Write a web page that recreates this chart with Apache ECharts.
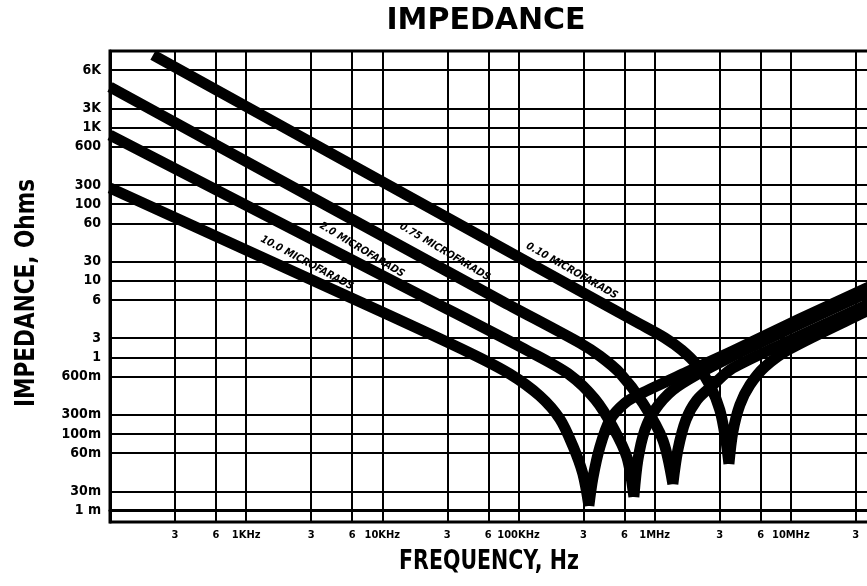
<!DOCTYPE html>
<html><head><meta charset="utf-8">
<script src="https://cdn.jsdelivr.net/npm/echarts@6/dist/echarts.min.js"></script>
<style>html,body{margin:0;padding:0;background:#fff}#c{width:867px;height:586px}</style>
</head><body><div id="c"></div>
<script>
// Frequency axis (Hz): grid/tick values and printed labels
const xTickValues = [300, 600, 1e3, 3e3, 6e3, 1e4, 3e4, 6e4, 1e5, 3e5, 6e5, 1e6, 3e6, 6e6, 1e7, 3e7];
const xTickLabels = ['3', '6', '1KHz', '3', '6', '10KHz', '3', '6', '100KHz', '3', '6', '1MHz', '3', '6', '10MHz', '3'];
// Impedance axis: positions of the printed scale steps and their labels
const yTickPositions = [0, 1, 3, 4, 5, 7, 8, 9, 11, 12, 13, 15, 16, 17, 19, 20, 21, 23];
const yTickLabels = ['1 m', '30m', '60m', '100m', '300m', '600m', '1', '3', '6', '10', '30', '60', '100', '300', '600', '1K', '3K', '6K'];

const capNames = ['0.10 MICROFARADS', '0.75 MICROFARADS', '2.0 MICROFARADS', '10.0 MICROFARADS'];
// [frequency Hz, impedance-scale position]; falling branch then rising branch
const cap010Fall = [[207, 23.79], [396000, 10.89], [779000, 9.74], [1.19e6, 9.01], [1.58e6, 8.38], [2.04e6, 7.60], [2.54e6, 6.55], [3.01e6, 5.25], [3.33e6, 3.68], [3.51e6, 2.43]];
const cap010Rise = [[3.51e6, 2.43], [3.75e6, 4.10], [4.22e6, 5.51], [5.0e6, 6.55], [6.44e6, 7.50], [9.83e6, 8.44], [36.1e6, 10.42], [53.3e6, 10.99]];
const cap075Fall = [[100, 22.12], [73000, 10.99], [282400, 8.75], [396000, 8.07], [555300, 7.18], [819500, 5.61], [1.149e6, 3.68], [1.36e6, 1.38]];
const cap075Rise = [[1.36e6, 1.38], [1.48e6, 3.16], [1.695e6, 4.73], [2.04e6, 5.77], [2.675e6, 6.55], [3.75e6, 7.44], [11.6e6, 9.11], [36.1e6, 10.73], [53.3e6, 11.31]];
const cap20Fall = [[100, 19.61], [22360, 10.99], [121300, 8.28], [238500, 7.08], [363800, 5.82], [493300, 4.36], [625100, 2.79], [703600, 0.71]];
const cap20Rise = [[703600, 0.71], [752800, 2.64], [847200, 4.20], [1.003e6, 5.25], [1.36e6, 6.29], [2.147e6, 7.18], [3.75e6, 8.07], [11.6e6, 9.74], [36.1e6, 11.36], [53.3e6, 11.93]];
const cap100Fall = [[100, 16.84], [9600, 10.42], [43970, 8.23], [86480, 7.13], [143600, 5.98], [201400, 4.78], [250800, 3.37], [297000, 1.91], [328800, 0.24]];
const cap100Rise = [[328800, 0.24], [351800, 1.70], [396000, 3.32], [469000, 4.73], [604200, 5.61], [779000, 6.08], [1.724e6, 7.23], [3.75e6, 8.33], [11.6e6, 10.00], [36.1e6, 11.62], [53.3e6, 12.20]];
// where each curve's name is printed: [frequency Hz, impedance-scale position]
const capLabelAt = [[246700, 12.51], [28810, 13.50], [7083, 13.61], [2795, 12.93]];

const falls = [cap010Fall, cap075Fall, cap20Fall, cap100Fall];
const rises = [cap010Rise, cap075Rise, cap20Rise, cap100Rise];
const labelRotate = [-29.6, -30.7, -31, -28.2];

const TICK_FONT = "'DejaVu Sans Condensed', 'DejaVu Sans', sans-serif";

const chart = echarts.init(document.getElementById('c'), null, {renderer: 'canvas'});

const series = capNames.map((name, i) => ({
  type: 'line',
  name: name,
  data: falls[i].concat([null], rises[i]),
  connectNulls: false,
  symbol: 'none',
  smooth: 0.3,
  silent: true,
  animation: false,
  lineStyle: {color: '#000', width: 11, cap: 'butt', join: 'round'},
  markPoint: {
    symbol: 'rect',
    symbolSize: 1,
    silent: true,
    itemStyle: {color: 'rgba(0,0,0,0)'},
    data: [{coord: capLabelAt[i], value: name}],
    label: {
      show: true, position: 'inside', formatter: name, rotate: labelRotate[i],
      color: '#000', fontFamily: TICK_FONT, fontWeight: 'bold', fontStyle: 'italic', fontSize: 10.5
    }
  }
}));

function xLabel(v) {
  for (let i = 0; i < xTickValues.length; i++) {
    if (Math.abs(Math.log10(v) - Math.log10(xTickValues[i])) < 1e-6) return xTickLabels[i];
  }
  return '';
}
function yLabel(v) {
  const k = yTickPositions.indexOf(Math.round(v));
  return k >= 0 ? yTickLabels[k] : '';
}

chart.setOption({
  backgroundColor: '#fff',
  animation: false,
  grid: {left: 110, right: -60, top: 51, bottom: 64, outerBoundsMode: 'none', containLabel: false, show: true, borderColor: '#000', borderWidth: 3, backgroundColor: 'rgba(0,0,0,0)'},
  xAxis: {
    type: 'log', logBase: 10, min: 100, max: 1e8,
    axisLine: {show: true, lineStyle: {color: '#000', width: 3}},
    axisTick: {show: false, customValues: xTickValues},
    axisLabel: {customValues: xTickValues, formatter: xLabel, color: '#000', fontFamily: TICK_FONT, fontWeight: 'bold', fontSize: 11, margin: 8, hideOverlap: false},
    splitLine: {show: true, lineStyle: {color: '#000', width: 2}},
    minorSplitLine: {show: false}
  },
  yAxis: {
    type: 'value', min: -0.6, max: 24,
    axisLine: {show: true, lineStyle: {color: '#000', width: 3}},
    axisTick: {show: false, customValues: yTickPositions},
    axisLabel: {customValues: yTickPositions, formatter: yLabel, color: '#000', fontFamily: TICK_FONT, fontWeight: 'bold', fontSize: 14, margin: 9, hideOverlap: false},
    splitLine: {show: true, lineStyle: {color: '#000', width: 2}}
  },
  graphic: [
    {type: 'text', x: 486, y: 21, style: {text: 'IMPEDANCE', font: "bold 30px 'DejaVu Sans', sans-serif", fill: '#000', align: 'center', verticalAlign: 'middle'}},
    {type: 'text', x: 489, y: 562, scaleX: 0.79, style: {text: 'FREQUENCY, Hz', font: "bold 26px 'DejaVu Sans', sans-serif", fill: '#000', align: 'center', verticalAlign: 'middle'}},
    {type: 'text', x: 27, y: 293, rotation: Math.PI / 2, scaleX: 0.83, style: {text: 'IMPEDANCE, Ohms', font: "bold 26px 'DejaVu Sans', sans-serif", fill: '#000', align: 'center', verticalAlign: 'middle'}}
  ],
  series: series
});
</script>
</body></html>
